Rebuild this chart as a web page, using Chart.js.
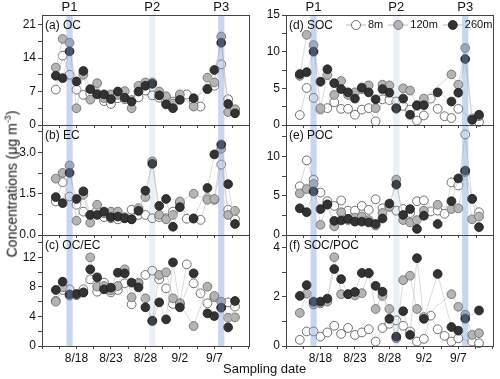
<!DOCTYPE html>
<html>
<head>
<meta charset="utf-8">
<script src="https://cdn.jsdelivr.net/npm/chart.js@4.4.0/dist/chart.umd.min.js"></script>
<style>
  body { margin: 0; background: #fff; }
  #wrap { position: relative; width: 500px; height: 379px; overflow: hidden; font-family: "Liberation Sans", Arial, sans-serif; color: #111; }
  canvas { position: absolute; top: 0; }
  #ytitle { position: absolute; left: 11px; top: 184px; transform: translate(-50%, -50%) rotate(-90deg); white-space: nowrap; font-size: 14px; }
  #ytitle sup { font-size: 9px; }
  #xtitle { position: absolute; left: 223px; top: 361px; white-space: nowrap; font-size: 13px; }
</style>
</head>
<body>
<div id="wrap">
  <canvas id="left" width="254" height="379" style="left:0"></canvas>
  <canvas id="right" width="252" height="379" style="left:246px"></canvas>
  <div id="ytitle">Concentrations (μg m<sup>-3</sup>)</div>
  <div id="xtitle">Sampling date</div>
</div>
<script>
// sampling days, 8/15 .. 9/10
const dates = ['8/15','8/16','8/17','8/18','8/19','8/20','8/21','8/22','8/23','8/24','8/25','8/26','8/27','8/28',
               '8/29','8/30','8/31','9/1','9/2','9/3','9/4','9/5','9/6','9/7','9/8','9/9','9/10'];
const tickDates = ['8/18','8/23','8/28','9/2','9/7'];
const periodNames = ['P1','P2','P3'];
const periodDates = ['8/17','8/29','9/8'];
const heights = ['8m','120m','260m'];

// (a) OC
const oc8   = [7.4,14.5,10.5,7.4,6.3,6.6,6.6,5.0,4.4,5.6,5.4,5.2,5.8,7.2,6.2,5.7,4.9,4.9,6.0,6.4,5.0,3.85,7.6,8.2,12.7,5.4,3.1];
const oc120 = [12.0,18.0,17.2,3.5,10.5,5.3,8.75,5.6,6.4,6.3,7.1,3.5,8.2,8.9,8.9,7.0,6.0,4.5,6.4,null,3.85,null,9.9,8.9,18.5,2.7,3.3];
const oc260 = [10.3,9.8,15.4,9.1,11.3,7.5,6.4,6.4,5.4,7.0,5.7,4.9,7.0,8.2,8.6,6.2,4.3,3.5,5.25,null,5.6,null,7.5,11.5,17.2,4.4,2.45];
// (b) EC
const ec8   = [1.22,1.92,1.40,1.10,0.85,0.73,0.89,0.65,0.61,0.57,0.61,0.92,0.73,0.73,0.61,0.65,0.61,0.85,1.16,0.59,0.60,0.55,1.34,1.28,2.56,0.92,0.57];
const ec120 = [2.05,2.26,2.53,0.52,1.46,0.45,1.10,0.79,0.85,0.85,0.65,0.57,0.98,1.38,2.68,0.73,0.57,0.73,1.22,null,1.50,null,1.28,1.31,3.13,0.73,0.88];
const ec260 = [1.38,1.16,2.26,1.31,1.59,0.73,0.73,0.85,0.65,0.67,0.61,0.57,0.88,1.61,2.59,1.06,1.31,0.30,1.01,null,0.60,null,1.71,2.93,3.29,1.85,0.40];
// (c) OC/EC
const oe8   = [6.1,7.57,7.66,6.89,7.66,9.01,7.34,8.56,7.25,7.57,8.47,5.63,8.56,9.6,10.18,9.0,7.79,5.68,5.8,11.04,8.47,7.12,5.77,6.58,5.2,5.9,5.32];
const oe120 = [5.99,7.93,6.8,6.9,7.2,11.98,8.02,8.11,7.5,8.11,10.36,6.58,8.4,6.44,3.35,9.6,9.96,6.44,5.68,null,2.70,null,8.02,6.76,5.99,3.83,3.87];
const oe260 = [7.57,8.69,6.98,7.03,7.25,10.36,9.28,7.66,7.88,9.91,9.82,8.56,7.93,5.23,3.42,5.9,3.6,11.3,5.23,null,9.82,null,4.41,4.05,5.18,2.52,6.08];
// (d) SOC
const soc8   = [1.36,5.05,3.7,2.1,2.3,3.1,2.2,2.2,1.4,2.1,2.3,0.5,3.5,3.4,3.2,2.6,2.1,0.6,1.3,3.6,2.2,1.2,0.95,2.2,null,0.8,0.4];
const soc120 = [6.7,12.3,10.9,2.3,6.8,4.1,6.0,4.1,4.45,4.9,5.4,2.3,5.5,5.4,2.2,5.0,4.7,2.6,3.6,null,null,null,6.9,5.5,10.5,0.9,1.2];
const soc260 = [6.95,7.2,10.0,5.9,7.6,5.7,4.9,4.45,3.6,5.1,4.45,3.5,4.9,4.4,2.3,3.6,1.4,2.7,2.7,null,4.45,null,3.2,4.4,9.0,0.7,1.4];
// (e) POC
const poc8   = [6.2,9.5,7.05,5.4,4.3,3.7,4.4,3.1,3.1,3.7,3.2,4.55,3.4,3.6,3.1,3.3,2.8,4.3,4.4,3.0,3.1,2.7,6.7,6.3,12.8,4.6,2.9];
const poc120 = [5.3,5.85,6.5,1.3,3.85,1.1,2.9,1.9,2.2,2.35,1.9,1.2,2.8,3.6,7.05,1.9,1.6,1.9,3.1,null,3.85,null,3.3,3.4,8.0,2.0,2.35];
const poc260 = [3.4,2.9,5.55,3.3,3.9,1.8,1.85,2.05,1.7,1.7,1.6,1.4,2.1,4.0,6.4,2.55,3.3,0.77,2.45,null,1.4,null,4.3,7.2,8.2,4.6,1.0];
// (f) SOC/POC
const sp8   = [0.25,0.59,0.59,0.38,0.55,0.82,0.49,0.73,0.45,0.55,0.68,0.18,0.73,0.9,1.04,0.82,0.59,0.18,0.29,1.23,0.68,0.41,0.18,0.31,null,0.18,0.11];
const sp120 = [1.34,2.12,1.68,1.73,1.8,3.6,2.1,2.1,2.05,2.14,2.94,1.5,2.03,1.5,0.31,2.67,2.85,1.5,1.18,null,null,null,2.1,1.59,1.27,0.45,0.52];
const sp260 = [2.03,2.47,1.8,1.8,1.92,3.12,2.71,2.1,2.19,2.96,2.96,2.44,2.2,1.1,0.38,1.41,0.45,3.56,1.1,null,2.92,null,0.77,0.62,1.11,null,1.44];

function dayNum(s) {
  const [m, d] = s.split('/').map(Number);
  return m === 8 ? d : 31 + d;
}
const tickMap = {};
tickDates.forEach(t => tickMap[dayNum(t)] = t);

const styles = [
  { bg: '#ffffff', bd: '#4d4d4d', order: 3 },
  { bg: '#b4b4b4', bd: '#666666', order: 2 },
  { bg: '#333333', bd: '#1a1a1a', order: 1 }
];
const FONT = '"Liberation Sans", Arial, sans-serif';

// one chart per column, three stacked y axes each
const columns = [
  { id: 'left', yw: 42, panels: [
    { tag: '(a) OC', series: [oc8, oc120, oc260], max: 23, step: 7, dec: 0, h: 110 },
    { tag: '(b) EC', series: [ec8, ec120, ec260], max: 4, step: 1.5, dec: 1, h: 110 },
    { tag: '(c) OC/EC', series: [oe8, oe120, oe260], max: 15, step: 4, dec: 0, h: 111 }
  ]},
  { id: 'right', yw: 40, legend: true, panels: [
    { tag: '(d) SOC', series: [soc8, soc120, soc260], max: 15, step: 5, dec: 0, h: 110 },
    { tag: '(e) POC', series: [poc8, poc120, poc260], max: 14, step: 5, dec: 0, h: 110 },
    { tag: '(f) SOC/POC', series: [sp8, sp120, sp260], max: 4.5, step: 2, dec: 0, h: 111 }
  ]}
];

const panelPlugin = {
  id: 'panel',
  afterDatasetsDraw(chart, args, opts) {
    const { ctx, chartArea: ca, scales } = chart;
    const x = scales.x;
    ctx.save();
    opts.panels.forEach((p, k) => {
      const y = scales['y' + k];
      const a = { left: ca.left, right: ca.right, top: y.top, bottom: y.bottom };
      // shaded periods
      periodDates.forEach((d, i) => {
        const c = dayNum(d);
        const x1 = x.getPixelForValue(c - 0.45), x2 = x.getPixelForValue(c + 0.45);
        ctx.fillStyle = i === 1 ? 'rgba(111,146,211,0.15)' : 'rgba(111,146,211,0.38)';
        ctx.fillRect(x1, a.top, x2 - x1, a.bottom - a.top);
        if (k === 0) {
          ctx.fillStyle = '#111';
          ctx.font = '13px ' + FONT;
          ctx.textAlign = 'center';
          ctx.textBaseline = 'middle';
          ctx.fillText(periodNames[i], (x1 + x2) / 2, a.top - 8);
        }
      });
      // frame
      ctx.strokeStyle = '#444';
      ctx.lineWidth = 1;
      ctx.strokeRect(Math.round(a.left) + 0.5, Math.round(a.top) + 0.5, Math.round(a.right - a.left), Math.round(a.bottom - a.top));
      // date ticks under the upper panels
      if (k < opts.panels.length - 1) {
        ctx.beginPath();
        x.ticks.forEach(t => {
          const px = Math.round(x.getPixelForValue(t.value)) + 0.5;
          ctx.moveTo(px, Math.round(a.bottom)); ctx.lineTo(px, Math.round(a.bottom) + 3);
        });
        ctx.stroke();
      }
      // y tick labels from the scale ticks
      ctx.fillStyle = '#111';
      ctx.font = '12px ' + FONT;
      ctx.textAlign = 'right';
      ctx.textBaseline = 'middle';
      y.ticks.forEach((t, i) => {
        if (i % 2 === 0) ctx.fillText(t.value.toFixed(p.dec), a.left - 6, y.getPixelForValue(t.value));
      });
      // panel tag
      ctx.textAlign = 'left';
      ctx.fillText(p.tag, a.left + 3, a.top + 11);
      // legend
      if (opts.legend && k === 0) {
        ctx.font = '11px ' + FONT;
        let lx = a.left + 60;
        const ly = a.top + 10;
        heights.forEach((h, i) => {
          ctx.strokeStyle = '#bbbbbb';
          ctx.lineWidth = 1;
          ctx.beginPath(); ctx.moveTo(lx, ly); ctx.lineTo(lx + 20, ly); ctx.stroke();
          ctx.beginPath(); ctx.arc(lx + 10, ly, 4.5, 0, Math.PI * 2);
          ctx.fillStyle = styles[i].bg; ctx.fill();
          ctx.strokeStyle = styles[i].bd; ctx.lineWidth = 0.8; ctx.stroke();
          ctx.fillStyle = '#111';
          ctx.fillText(h, lx + 22, ly);
          lx += 22 + ctx.measureText(h).width + 5;
        });
        ctx.strokeStyle = '#444';
        ctx.lineWidth = 1;
      }
    });
    ctx.restore();
  }
};

const xs = dates.map(dayNum);

columns.forEach(col => {
  const datasets = [];
  const scales = {
    x: {
      type: 'linear', min: 13, max: 43,
      afterBuildTicks: s => { const t = []; for (let v = 13; v <= 43; v += 2.5) t.push({ value: v }); s.ticks = t; },
      afterFit: s => { s.height = 33; },
      ticks: {
        autoSkip: false, maxRotation: 0, padding: 2, color: '#111',
        font: { family: FONT, size: 12 },
        callback: v => tickMap[v] || ''
      },
      grid: { drawOnChartArea: false, drawTicks: true, tickLength: 3, color: '#444' },
      border: { display: false }
    }
  };
  col.panels.forEach((p, k) => {
    scales['y' + k] = {
      type: 'linear', position: 'left', stack: 'col', stackWeight: p.h, weight: 10 - k,
      min: 0, max: p.max,
      afterBuildTicks: s => {
        const t = [];
        for (let n = 0; n * p.step / 2 <= p.max + 1e-9; n++) t.push({ value: n * p.step / 2 });
        s.ticks = t;
      },
      afterFit: s => { s.width = col.yw; },
      ticks: { display: false, autoSkip: false },
      grid: { drawOnChartArea: false, drawTicks: true, tickLength: 4, color: '#444' },
      border: { display: false }
    };
    p.series.forEach((vals, i) => {
      datasets.push({
        label: heights[i],
        yAxisID: 'y' + k,
        data: xs.map((x, j) => ({ x: x, y: vals[j] })),
        borderColor: '#cccccc',
        borderWidth: 0.7,
        pointRadius: 4.4,
        pointBackgroundColor: styles[i].bg,
        pointBorderColor: styles[i].bd,
        pointBorderWidth: 0.8,
        spanGaps: true,
        clip: false,
        order: styles[i].order
      });
    });
  });
  new Chart(document.getElementById(col.id), {
    type: 'line',
    data: { datasets },
    plugins: [panelPlugin],
    options: {
      responsive: false,
      animation: false,
      devicePixelRatio: 1,
      layout: { padding: { top: 15, right: 2, left: 0, bottom: 0 } },
      plugins: {
        legend: { display: false },
        tooltip: { enabled: false },
        panel: { panels: col.panels, legend: !!col.legend }
      },
      scales
    }
  });
});
</script>
</body>
</html>
